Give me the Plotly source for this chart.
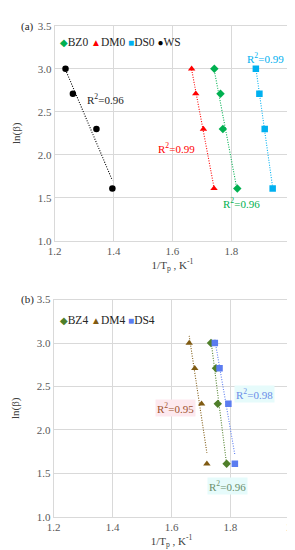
import numpy as np
import plotly.graph_objects as go

# ---- data ----
ln_beta = [3.00, 2.71, 2.30, 1.61]

ws_x = [1.237, 1.262, 1.342, 1.396]
dm0_x = [1.665, 1.679, 1.705, 1.741]
bz0_x = [1.742, 1.763, 1.771, 1.820]
ds0_x = [1.883, 1.895, 1.913, 1.940]

dm4_x = [1.660, 1.679, 1.702, 1.720]
bz4_x = [1.734, 1.751, 1.757, 1.787]
ds4_x = [1.747, 1.763, 1.793, 1.815]

r2_a = {"WS": "0.96", "DM0": "0.99", "BZ0": "0.96", "DS0": "0.99"}
r2_b = {"DM4": "0.95", "BZ4": "0.96", "DS4": "0.98"}

x_ticks = [1.2, 1.4, 1.6, 1.8, 2.0]
x_ticktext = ["1.2", "1.4", "1.6", "1.8", "2"]
y_ticks = [1.0, 1.5, 2.0, 2.5, 3.0, 3.5]

FONT = "Liberation Serif, DejaVu Serif, serif"
W, H = 295, 550

series_a = [
    ("BZ0", bz0_x, "#00b050", "diamond"),
    ("DM0", dm0_x, "#ff0000", "triangle-up"),
    ("DS0", ds0_x, "#00b0f0", "square"),
    ("WS", ws_x, "#000000", "circle"),
]
series_b = [
    ("BZ4", bz4_x, "#4f7f2a", "diamond"),
    ("DM4", dm4_x, "#7f5a12", "triangle-up"),
    ("DS4", ds4_x, "#5b7cf0", "square"),
]

fig = go.Figure()

def add_series(name, xs, color, symbol, xa, ya):
    xs = np.array(xs)
    ys = np.array(ln_beta)
    k, b = np.polyfit(xs, ys, 1)
    xl = np.array([xs.min(), xs.max()])
    fig.add_trace(go.Scatter(x=xl, y=k * xl + b, mode="lines",
                             line=dict(color=color, width=1.1, dash="1px,1.5px"),
                             xaxis=xa, yaxis=ya, showlegend=False, hoverinfo="skip"))
    fig.add_trace(go.Scatter(x=xs, y=ys, mode="markers", name=name,
                             marker=dict(color=color, symbol=symbol, size=6.5),
                             xaxis=xa, yaxis=ya, showlegend=False))

for s in series_a:
    add_series(*s, "x", "y")
for s in series_b:
    add_series(*s, "x2", "y2")

axis_common = dict(showgrid=True, gridcolor="#d9d9d9", gridwidth=1,
                   showline=True, linecolor="#d9d9d9", mirror=True,
                   zeroline=False, ticks="",
                   tickfont=dict(family=FONT, size=11, color="#595959"))

def px2x(p):
    return p / W

def px2y(p):
    return 1 - p / H

fig.update_layout(
    width=W, height=H,
    margin=dict(l=0, r=0, t=0, b=0),
    paper_bgcolor="white", plot_bgcolor="white",
    font=dict(family=FONT, color="#404040"),
    xaxis=dict(domain=[px2x(41), px2x(285)], range=[1.2, 2.0], anchor="y",
               tickvals=x_ticks, ticktext=x_ticktext,
               title=dict(text="1/T<sub>p</sub> , K<sup>-1</sup>",
                          font=dict(family=FONT, size=11, color="#404040"), standoff=2),
               **axis_common),
    yaxis=dict(domain=[px2y(232), px2y(12)], range=[1.0, 3.5], anchor="x",
               tickvals=y_ticks, tickformat=".1f",
               title=dict(text="ln(β)", font=dict(family=FONT, size=11, color="#404040"), standoff=14),
               **axis_common),
    xaxis2=dict(domain=[px2x(40), px2x(284)], range=[1.2, 2.0], anchor="y2",
                tickvals=x_ticks, ticktext=x_ticktext,
                title=dict(text="1/T<sub>p</sub> , K<sup>-1</sup>",
                           font=dict(family=FONT, size=11, color="#404040"), standoff=2),
                **axis_common),
    yaxis2=dict(domain=[px2y(514), px2y(292)], range=[1.0, 3.5], anchor="x2",
                tickvals=y_ticks, tickformat=".1f",
                title=dict(text="ln(β)", font=dict(family=FONT, size=11, color="#404040"), standoff=14),
                **axis_common),
)

# panel labels
for lab, ypx in [("(a)", 13), ("(b)", 292)]:
    fig.add_annotation(text=lab, xref="paper", yref="paper", x=px2x(4), y=px2y(ypx),
                       xanchor="left", yanchor="middle", showarrow=False,
                       font=dict(family=FONT, size=11, color="#262626"))

# legends as text rows
def legend_row(series, ypx):
    parts = []
    for name, _, color, symbol in series:
        sym = {"diamond": "◆", "triangle-up": "▲", "square": "■", "circle": "●"}[symbol]
        parts.append(f"<span style='color:{color};font-size:10px'>{sym}</span>{name}")
    fig.add_annotation(text=" ".join(parts), xref="paper", yref="paper",
                       x=px2x(45), y=px2y(ypx), xanchor="left", yanchor="middle",
                       showarrow=False, font=dict(family=FONT, size=11.5, color="#262626"))

legend_row(series_a, 29)
legend_row(series_b, 313)

# R² labels
def r2(text, x, y, color, xa, ya, bg=None):
    fig.add_annotation(text=f"R<sup>2</sup>={text}", x=x, y=y, xref=xa, yref=ya,
                       showarrow=False, font=dict(family=FONT, size=11, color=color),
                       bgcolor=bg if bg else "rgba(0,0,0,0)", borderpad=1)

r2(r2_a["WS"], 1.372, 2.65, "#262626", "x", "y")
r2(r2_a["DM0"], 1.612, 2.085, "#ff0000", "x", "y")
r2(r2_a["BZ0"], 1.833, 1.443, "#00b050", "x", "y")
r2(r2_a["DS0"], 1.916, 3.125, "#00b0f0", "x", "y")

r2(r2_b["DS4"], 1.882, 2.41, "#6a8ce8", "x2", "y2", "#e6fbfb")
r2(r2_b["DM4"], 1.613, 2.25, "#a0522d", "x2", "y2", "#fde9ef")
r2(r2_b["BZ4"], 1.790, 1.36, "#6b8f6b", "x2", "y2", "#e6fbfb")

fig.write_html("out.html")
